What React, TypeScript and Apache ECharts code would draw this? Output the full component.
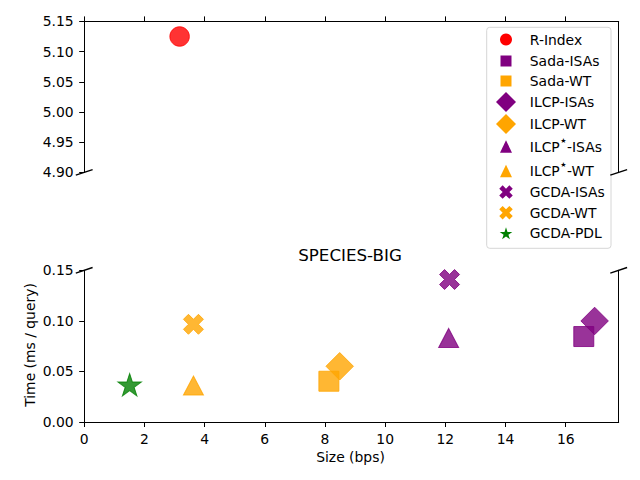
import React, { useEffect, useRef } from "react";
import * as echarts from "echarts";

const FONT = "DejaVu Sans";

// ---- data (x = size in bps, y = time in ms / query) ----
const rIndex = [[3.17, 5.125]];
const sadaISAs = [[16.6, 0.0845]];
const sadaWT = [[8.13, 0.0403]];
const ilcpISAs = [[16.96, 0.0999]];
const ilcpWT = [[8.49, 0.0551]];
const ilcpStarISAs = [[12.11, 0.0831]];
const ilcpStarWT = [[3.63, 0.0361]];
const gcdaISAs = [[12.14, 0.1409]];
const gcdaWT = [[3.63, 0.0966]];
const gcdaPDL = [[1.51, 0.0369]];

const seriesNames = [
  "R-Index",
  "Sada-ISAs",
  "Sada-WT",
  "ILCP-ISAs",
  "ILCP-WT",
  "ILCP★-ISAs",
  "ILCP★-WT",
  "GCDA-ISAs",
  "GCDA-WT",
  "GCDA-PDL",
];
const seriesData = [
  rIndex,
  sadaISAs,
  sadaWT,
  ilcpISAs,
  ilcpWT,
  ilcpStarISAs,
  ilcpStarWT,
  gcdaISAs,
  gcdaWT,
  gcdaPDL,
];

const xTicks = [0, 2, 4, 6, 8, 10, 12, 14, 16];
const xMin = 0;
const xMax = 17.76;
const topYMin = 4.9;
const topYMax = 5.15;
const botYMin = 0;
const botYMax = 0.15;
const yStep = 0.05;

const titleText = "SPECIES-BIG";
const xLabelText = "Size (bps)";
const yLabelText = "Time (ms / query)";

// ---- styling ----
const FS = 13.9;
const TITLE_FS = 16.7;
const X_PATH = "path://M6 0L8 2L6 4L8 6L6 8L4 6L2 8L0 6L2 4L0 2L2 0L4 2Z";
const STAR_PATH =
  "path://M95.11 0L117.56 69.1L190.22 69.1L131.44 111.8L153.89 180.9L95.11 138.2L36.33 180.9L58.78 111.8L0 69.1L72.66 69.1Z";

const RED = "#ff0000";
const PURPLE = "#800080";
const ORANGE = "#ffa500";
const GREEN = "#008000";

const styles = [
  { symbol: "circle", size: 19.5, color: RED, lw: 12, lh: 12 },
  { symbol: "rect", size: 20, color: PURPLE, lw: 11, lh: 11 },
  { symbol: "rect", size: 20, color: ORANGE, lw: 11, lh: 11 },
  { symbol: "diamond", size: 27.5, color: PURPLE, lw: 20, lh: 20 },
  { symbol: "diamond", size: 27.5, color: ORANGE, lw: 20, lh: 20 },
  { symbol: "triangle", size: [20, 19], color: PURPLE, lw: 12, lh: 12.5 },
  { symbol: "triangle", size: [20, 19], color: ORANGE, lw: 12, lh: 12.5 },
  { symbol: X_PATH, size: 20, color: PURPLE, lw: 13.5, lh: 13.5 },
  { symbol: X_PATH, size: 20, color: ORANGE, lw: 13.5, lh: 13.5 },
  { symbol: STAR_PATH, size: [23.4, 22.3], color: GREEN, lw: 12.6, lh: 12 },
];

// layout
const GL = 84.2;
const GR = 618.7;
const G1T = 21.4;
const G1B = 172.4;
const G2T = 270.3;
const G2B = 422;
const legendRows = [39.5, 61, 81, 102, 124, 146.5, 171, 192, 212.7, 233.3];
const legendMarkerX = 506;
const legendTextX = 529.8;

function buildOption() {
  const axisLineStyle = { color: "#000", width: 1 };
  const labelStyle = { fontSize: FS, color: "#000", fontFamily: FONT };

  const xAxis = [
    {
      type: "value",
      gridIndex: 0,
      position: "top",
      min: xMin,
      max: xMax,
      axisLine: { show: true, onZero: false, lineStyle: axisLineStyle },
      axisTick: { show: true, inside: false, length: 5, customValues: xTicks, lineStyle: axisLineStyle },
      axisLabel: { show: false },
      splitLine: { show: false },
    },
    {
      type: "value",
      gridIndex: 1,
      position: "bottom",
      min: xMin,
      max: xMax,
      axisLine: { show: true, onZero: false, lineStyle: axisLineStyle },
      axisTick: { show: true, inside: false, length: 5, customValues: xTicks, lineStyle: axisLineStyle },
      axisLabel: { show: true, customValues: xTicks, margin: 9.5, ...labelStyle },
      splitLine: { show: false },
    },
  ];

  const yAxis = [
    {
      type: "value",
      gridIndex: 0,
      position: "left",
      min: topYMin,
      max: topYMax,
      interval: yStep,
      axisLine: { show: true, onZero: false, lineStyle: axisLineStyle },
      axisTick: { show: true, inside: false, length: 5, lineStyle: axisLineStyle },
      axisLabel: { show: true, margin: 10.5, formatter: (v: number) => v.toFixed(2), ...labelStyle },
      splitLine: { show: false },
    },
    {
      type: "value",
      gridIndex: 0,
      position: "right",
      min: 0,
      max: 1,
      axisLine: { show: true, onZero: false, lineStyle: axisLineStyle },
      axisTick: { show: false },
      axisLabel: { show: false },
      splitLine: { show: false },
    },
    {
      type: "value",
      gridIndex: 1,
      position: "left",
      min: botYMin,
      max: botYMax,
      interval: yStep,
      axisLine: { show: true, onZero: false, lineStyle: axisLineStyle },
      axisTick: { show: true, inside: false, length: 5, lineStyle: axisLineStyle },
      axisLabel: { show: true, margin: 10.5, formatter: (v: number) => v.toFixed(2), ...labelStyle },
      splitLine: { show: false },
    },
    {
      type: "value",
      gridIndex: 1,
      position: "right",
      min: 0,
      max: 1,
      axisLine: { show: true, onZero: false, lineStyle: axisLineStyle },
      axisTick: { show: false },
      axisLabel: { show: false },
      splitLine: { show: false },
    },
  ];

  const series = seriesNames.map((name, i) => {
    const st = styles[i];
    const top = i === 0;
    return {
      type: "scatter",
      name,
      xAxisIndex: top ? 0 : 1,
      yAxisIndex: top ? 0 : 2,
      symbol: st.symbol,
      symbolSize: st.size,
      itemStyle: { color: st.color, opacity: 0.8, borderColor: st.color, borderWidth: 1 },
      emphasis: { disabled: true },
      data: seriesData[i],
      z: 2 + i * 0.01,
    };
  });

  const legends = seriesNames.map((name, i) => {
    const st = styles[i];
    const hasSup = name.indexOf("★") >= 0;
    const textH = hasSup ? 19 : 15;
    const boxH = Math.max(st.lh, textH);
    return {
      show: true,
      orient: "horizontal",
      left: legendMarkerX - st.lw / 2,
      top: legendRows[i] - boxH / 2,
      padding: 0,
      itemWidth: st.lw,
      itemHeight: st.lh,
      selectedMode: false,
      data: [{ name, itemStyle: { opacity: 1, borderWidth: 0 } }],
      itemStyle: { opacity: 1, borderWidth: 0 },
      formatter: (n: string) => {
        if (n.indexOf("★") >= 0) {
          const parts = n.split("★");
          return `{m|${parts[0]}}{s|★}{m|${parts[1]}}`;
        }
        return n;
      },
      textStyle: {
        fontSize: FS,
        fontFamily: FONT,
        color: "#000",
        lineHeight: 15,
        padding: [0, 0, 0, legendTextX - (legendMarkerX + st.lw / 2 + 5)],
        rich: {
          m: { fontSize: FS, fontFamily: FONT, color: "#000", lineHeight: 19, verticalAlign: "middle" },
          s: { fontSize: 7, fontFamily: FONT, color: "#000", lineHeight: 2, verticalAlign: "top", padding: [0, 0.5, 0, 0.5] },
        },
      },
    };
  });

  const bd = 8.4;
  const bh = 2.8;
  const breakMark = (cx: number, cy: number) => ({
    type: "line",
    shape: { x1: cx - bd, y1: cy + bh, x2: cx + bd, y2: cy - bh },
    style: { stroke: "#000", lineWidth: 1.4 },
    z: 10,
  });

  const graphic = [
    {
      type: "rect",
      shape: { x: 486.7, y: 27.3, width: 124.3, height: 221, r: 3 },
      style: { fill: "rgba(255,255,255,0.8)", stroke: "#d6d6d6", lineWidth: 1 },
      z: 3,
    },
    breakMark(GL, G1B),
    breakMark(GR, G1B),
    breakMark(GL, G2T),
    breakMark(GR, G2T),
    {
      type: "text",
      x: 350,
      y: 255,
      style: { text: titleText, fontSize: TITLE_FS, fontFamily: FONT, fill: "#000", align: "center", verticalAlign: "middle" },
    },
    {
      type: "text",
      x: 350.5,
      y: 456.7,
      style: { text: xLabelText, fontSize: FS, fontFamily: FONT, fill: "#000", align: "center", verticalAlign: "middle" },
    },
    {
      type: "text",
      x: 30,
      y: 345,
      rotation: Math.PI / 2,
      style: { text: yLabelText, fontSize: FS, fontFamily: FONT, fill: "#000", align: "center", verticalAlign: "middle" },
    },
  ];

  return {
    animation: false,
    backgroundColor: "#fff",
    textStyle: { fontFamily: FONT },
    grid: [
      { left: GL, top: G1T, width: GR - GL, height: G1B - G1T, containLabel: false },
      { left: GL, top: G2T, width: GR - GL, height: G2B - G2T, containLabel: false },
    ],
    xAxis,
    yAxis,
    legend: legends,
    series,
    graphic,
  };
}

export default function App() {
  const ref = useRef<HTMLDivElement>(null);
  useEffect(() => {
    if (!ref.current) return;
    const chart = echarts.init(ref.current, null, { renderer: "svg" });
    chart.setOption(buildOption() as any);
    return () => chart.dispose();
  }, []);
  return (
    <div
      ref={ref}
      style={{ position: "fixed", left: 0, top: 0, width: 640, height: 480, background: "#fff" }}
    />
  );
}
